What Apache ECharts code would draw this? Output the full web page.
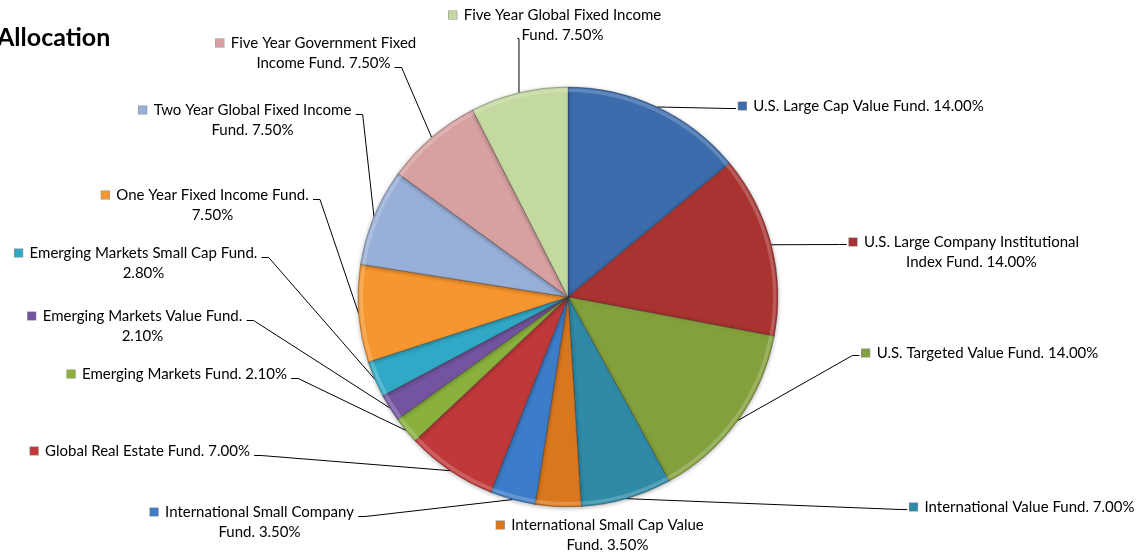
<!DOCTYPE html>
<html><head><meta charset="utf-8">
<script src="https://cdn.jsdelivr.net/npm/echarts@6/dist/echarts.min.js"></script>
<style>html,body{margin:0;padding:0;background:#fff}#c{width:1145px;height:554px}</style>
</head><body><div id="c"></div>
<script>
// ---- data ----
const titleText = 'Allocation';
const funds = [
  'U.S. Large Cap Value Fund',
  'U.S. Large Company Institutional Index Fund',
  'U.S. Targeted Value Fund',
  'International Value Fund',
  'International Small Cap Value Fund',
  'International Small Company Fund',
  'Global Real Estate Fund',
  'Emerging Markets Fund',
  'Emerging Markets Value Fund',
  'Emerging Markets Small Cap Fund',
  'One Year Fixed Income Fund',
  'Two Year Global Fixed Income Fund',
  'Five Year Government Fixed Income Fund',
  'Five Year Global Fixed Income Fund'
];
const weights = [14.0, 14.0, 14.0, 7.0, 3.5, 3.5, 7.0, 2.1, 2.1, 2.8, 7.5, 7.5, 7.5, 7.5];

// ---- style / layout ----
const colors = ['#3B6CAC','#A83331','#84A03C','#2E8AA6','#D9771F','#3D7CC8','#C0393A',
                '#8AB13E','#7454A0','#31A9C6','#F7962E','#98AFD7','#D8A0A0','#C4D9A0'];
const FONT = 'Lato';
const FS = 15;
const LH = 20;
const labelBreak = [0,4,0,0,4,3,0,0,4,5,5,5,4,5];       // words on first line (0 = one line)
const labelCenter = [[861,106],[964,252],[980,353],[1022,507],[600,535],[252,522],[140,451],
                     [177,374],[135,326],[136,263],[205,205],[245,120],[316,53],[555,25]];
const labelAttach = ['L1','L1','L1','L1','N','R1','R1','R1','R1','R1','R1','R1','R2','B2'];

const PIE_C = [568, 297], PIE_R = 210;

function splitLabel(i) {
  const txt = funds[i] + '. ' + weights[i].toFixed(2) + '%';
  const w = txt.split(' ');
  const b = labelBreak[i];
  if (!b) return [txt];
  return [w.slice(0, b).join(' '), w.slice(b).join(' ')];
}

const mctx = document.createElement('canvas').getContext('2d');
function textW(s) { mctx.font = FS + 'px ' + FONT; return mctx.measureText(s).width; }

const rich = {
  g: { width: 7, height: 8 },
  sp: { width: 15, height: 8 },
  t: { fontFamily: FONT, fontSize: FS, lineHeight: LH, color: '#000', align: 'center' }
};
colors.forEach((c, i) => {
  rich['s' + i] = { width: 8, height: 8, backgroundColor: c, borderColor: 'rgba(0,0,0,0.45)',
                    borderWidth: 0.6, verticalAlign: 'middle', align: 'center' };
});

const data = funds.map((n, i) => {
  const d = { name: n, value: weights[i], itemStyle: { color: colors[i] } };
  if (labelAttach[i] === 'N') d.labelLine = { show: false };
  return d;
});
const rimData = funds.map((n, i) => ({ name: n, value: weights[i] }));

function midPoint(i) {
  let before = 0; for (let k = 0; k < i; k++) before += weights[k];
  const total = weights.reduce((a, b) => a + b, 0);
  const ang = (before + weights[i] / 2) / total * Math.PI * 2;
  return [PIE_C[0] + PIE_R * Math.sin(ang), PIE_C[1] - PIE_R * Math.cos(ang)];
}

const chart = echarts.init(document.getElementById('c'), null, { renderer: 'canvas' });
chart.setOption({
  backgroundColor: '#fff',
  animation: false,
  title: {
    text: titleText, left: -8, top: 20,
    textStyle: { fontFamily: FONT, fontWeight: 'bold', fontSize: 25, color: '#000' }
  },
  series: [{
    type: 'pie',
    center: PIE_C,
    radius: PIE_R,
    startAngle: 90,
    clockwise: true,
    avoidLabelOverlap: false,
    emphasis: { disabled: true },
    itemStyle: {
      borderColor: 'rgba(40,40,40,0.4)', borderWidth: 0.8,
      shadowBlur: 4, shadowColor: 'rgba(0,0,0,0.3)', shadowOffsetY: 1
    },
    label: {
      show: true, position: 'outside', alignTo: 'none', align: 'center',
      rich: rich,
      formatter: function (p) {
        const i = p.dataIndex;
        const L = splitLabel(i);
        let s = '{s' + i + '|}{g|}{t|' + L[0] + '}';
        if (L[1]) s += '\n{sp|}{t|' + L[1] + '}';
        return s;
      }
    },
    labelLine: { show: true, length: 10, length2: 7, smooth: false,
                 lineStyle: { color: '#000', width: 1 } },
    labelLayout: function (p) {
      const i = p.dataIndex;
      const cx = labelCenter[i][0], cy = labelCenter[i][1];
      const w = p.labelRect.width, h = p.labelRect.height;
      const top = cy - h / 2;
      const res = { x: cx, y: cy, align: 'center', verticalAlign: 'middle', hideOverlap: false };
      const a = labelAttach[i];
      const start = (p.labelLinePoints && p.labelLinePoints[0]) ? p.labelLinePoints[0].slice() : midPoint(i);
      const L = splitLabel(i);
      if (a === 'N') {
        res.labelLinePoints = [start, start, start];
      } else if (a[0] === 'L') {
        const ln = +a[1];
        const y = top + LH * (ln - 0.5);
        const x = cx - w / 2 - 2;
        res.labelLinePoints = [start, [x - 7, y], [x, y]];
      } else if (a[0] === 'R') {
        const ln = +a[1];
        const y = top + LH * (ln - 0.5) + 2;
        let x;
        if (ln === 1) x = cx + w / 2 + 4;
        else x = cx + (15 + textW(L[1])) / 2 + 4;
        res.labelLinePoints = [start, [x + 7, y], [x, y]];
      } else if (a[0] === 'B') {
        const y = top + LH * 1.5 + 1;
        const x = cx - (15 + textW(L[1])) / 2 + 15 - 4;
        res.labelLinePoints = [start, [start[0], y], [x, y]];
      }
      return res;
    },
    data: data
  }, {
    type: 'pie',
    center: PIE_C,
    radius: [PIE_R - 5, PIE_R - 1.5],
    startAngle: 90,
    clockwise: true,
    silent: true,
    z: 3,
    label: { show: false },
    labelLine: { show: false },
    emphasis: { disabled: true },
    itemStyle: { color: 'rgba(255,255,255,0.2)', borderWidth: 0 },
    data: rimData
  }]
});
</script></body></html>
